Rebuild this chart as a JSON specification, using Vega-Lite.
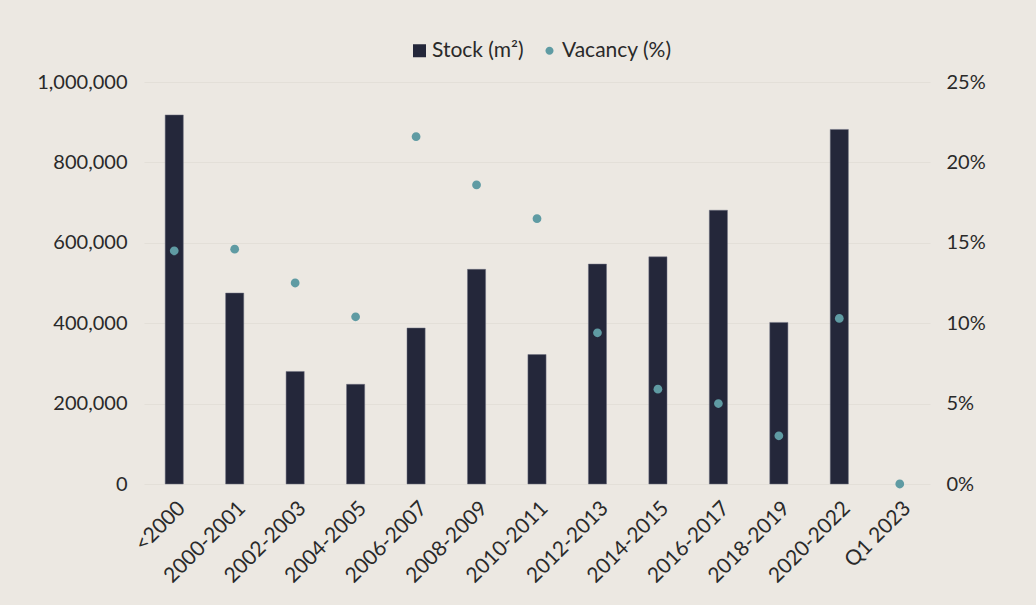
{
  "$schema": "https://vega.github.io/schema/vega-lite/v6.json",
  "width": 786,
  "height": 402,
  "autosize": {"type": "none"},
  "padding": {"left": 144, "top": 82, "right": 106, "bottom": 121},
  "background": "#ece8e2",
  "config": {
    "view": {"stroke": null},
    "font": "Lato",
    "axis": {
      "labelFont": "Lato",
      "labelFontSize": 20,
      "labelColor": "#2a2a2a",
      "labelFontWeight": 400,
      "domain": false,
      "ticks": false,
      "title": null
    },
    "legend": {
      "labelFont": "Lato",
      "labelFontSize": 21,
      "labelColor": "#2a2a2a",
      "labelFontWeight": 400
    }
  },
  "data": {
    "values": [
      {"cat": "<2000", "measure": "Stock (m²)", "value": 918000},
      {"cat": "2000-2001", "measure": "Stock (m²)", "value": 475000},
      {"cat": "2002-2003", "measure": "Stock (m²)", "value": 280000},
      {"cat": "2004-2005", "measure": "Stock (m²)", "value": 248000},
      {"cat": "2006-2007", "measure": "Stock (m²)", "value": 388000},
      {"cat": "2008-2009", "measure": "Stock (m²)", "value": 534000},
      {"cat": "2010-2011", "measure": "Stock (m²)", "value": 322000},
      {"cat": "2012-2013", "measure": "Stock (m²)", "value": 547000},
      {"cat": "2014-2015", "measure": "Stock (m²)", "value": 565000},
      {"cat": "2016-2017", "measure": "Stock (m²)", "value": 681000},
      {"cat": "2018-2019", "measure": "Stock (m²)", "value": 402000},
      {"cat": "2020-2022", "measure": "Stock (m²)", "value": 882000},
      {"cat": "<2000", "measure": "Vacancy (%)", "value": 14.5},
      {"cat": "2000-2001", "measure": "Vacancy (%)", "value": 14.6},
      {"cat": "2002-2003", "measure": "Vacancy (%)", "value": 12.5},
      {"cat": "2004-2005", "measure": "Vacancy (%)", "value": 10.4},
      {"cat": "2006-2007", "measure": "Vacancy (%)", "value": 21.6},
      {"cat": "2008-2009", "measure": "Vacancy (%)", "value": 18.6},
      {"cat": "2010-2011", "measure": "Vacancy (%)", "value": 16.5},
      {"cat": "2012-2013", "measure": "Vacancy (%)", "value": 9.4},
      {"cat": "2014-2015", "measure": "Vacancy (%)", "value": 5.9},
      {"cat": "2016-2017", "measure": "Vacancy (%)", "value": 5.0},
      {"cat": "2018-2019", "measure": "Vacancy (%)", "value": 3.0},
      {"cat": "2020-2022", "measure": "Vacancy (%)", "value": 10.3},
      {"cat": "Q1 2023", "measure": "Vacancy (%)", "value": 0}
    ]
  },
  "encoding": {
    "x": {
      "field": "cat",
      "type": "nominal",
      "scale": {
        "domain": ["<2000", "2000-2001", "2002-2003", "2004-2005", "2006-2007", "2008-2009", "2010-2011", "2012-2013", "2014-2015", "2016-2017", "2018-2019", "2020-2022", "Q1 2023"],
        "paddingInner": 0.7,
        "paddingOuter": 0.35
      },
      "axis": {"labelAngle": -45, "labelPadding": 13, "labelFontSize": 21, "title": null}
    },
    "color": {
      "field": "measure",
      "type": "nominal",
      "scale": {"domain": ["Stock (m²)", "Vacancy (%)"], "range": ["#24273a", "#5f9ba3"]},
      "legend": {
        "orient": "none",
        "legendX": 265,
        "legendY": -42,
        "direction": "horizontal",
        "title": null,
        "columnPadding": 15,
        "labelOffset": 2,
        "symbolSize": 169,
        "symbolStrokeWidth": 0
      }
    }
  },
  "layer": [
    {
      "transform": [{"filter": "datum.measure === 'Stock (m²)'"}],
      "mark": {"type": "bar", "stroke": "#6f7080", "strokeWidth": 0.5},
      "encoding": {
        "y": {
          "field": "value",
          "type": "quantitative",
          "scale": {"domain": [0, 1000000]},
          "axis": {
            "values": [0, 200000, 400000, 600000, 800000, 1000000],
            "format": ",.0f",
            "labelPadding": 17,
            "grid": true,
            "gridColor": "#e3dfd8",
            "gridWidth": 1,
            "title": null
          }
        }
      }
    },
    {
      "transform": [{"filter": "datum.measure === 'Vacancy (%)'"}],
      "mark": {"type": "point", "filled": true, "size": 200, "opacity": 1},
      "encoding": {
        "y": {
          "field": "value",
          "type": "quantitative",
          "scale": {"domain": [0, 25]},
          "axis": {
            "orient": "right",
            "values": [0, 5, 10, 15, 20, 25],
            "labelExpr": "datum.value + '%'",
            "labelPadding": 16,
            "grid": false,
            "title": null
          }
        },
        "shape": {
          "field": "measure",
          "type": "nominal",
          "scale": {
            "domain": ["Stock (m²)", "Vacancy (%)"],
            "range": ["M-1,-1H1V1H-1Z", "M0.62,0A0.62,0.62 0 1,1 -0.62,0A0.62,0.62 0 1,1 0.62,0Z"]
          },
          "legend": {
            "orient": "none",
            "legendX": 265,
            "legendY": -42,
            "direction": "horizontal",
            "title": null,
            "columnPadding": 15,
            "labelOffset": 2,
            "symbolSize": 169,
            "symbolStrokeWidth": 0
          }
        }
      }
    }
  ],
  "resolve": {"scale": {"y": "independent"}}
}
